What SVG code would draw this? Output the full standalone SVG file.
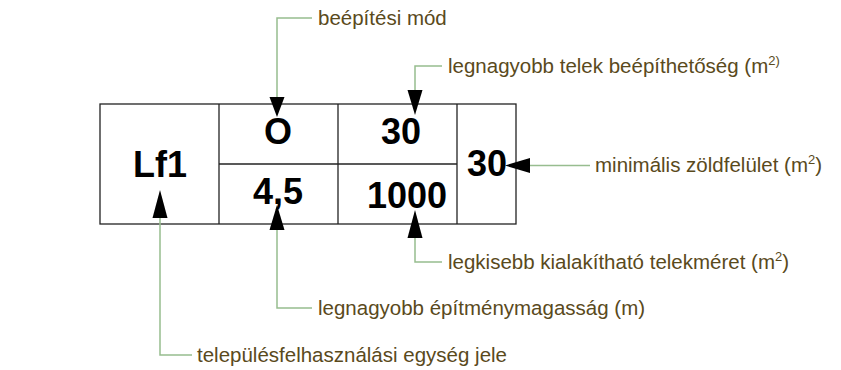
<svg xmlns="http://www.w3.org/2000/svg" width="841" height="370" viewBox="0 0 841 370">
<defs>
<style>
.box{fill:#fff;stroke:#222;stroke-width:1.3}
.val{font-family:"Liberation Sans",Arial,sans-serif;font-weight:bold;font-size:36px;fill:#000;text-anchor:middle}
.lbl{font-family:"Liberation Sans",Arial,sans-serif;font-size:20.5px;fill:#5a4a1c}
.sup{font-size:13px}
.lead{fill:none;stroke:#97bd8f;stroke-width:1.5}
.arr{fill:#000}
</style>
</defs>
<rect width="841" height="370" fill="#fff"/>
<g id="table">
<rect class="box" x="100" y="104" width="416" height="120"/>
<line class="box" x1="219" y1="104" x2="219" y2="224"/>
<line class="box" x1="338" y1="104" x2="338" y2="224"/>
<line class="box" x1="457" y1="104" x2="457" y2="224"/>
<line class="box" x1="219" y1="164" x2="457" y2="164"/>
</g>
<g id="node-lf1"><text class="val" x="160" y="177">Lf1</text></g>
<g id="node-mod"><text class="val" x="278" y="144">O</text></g>
<g id="node-beep"><text class="val" x="401" y="144">30</text></g>
<g id="node-mag"><text class="val" x="278" y="204">4,5</text></g>
<g id="node-telek"><text class="val" x="407" y="208">1000</text></g>
<g id="node-zold"><text class="val" x="487" y="176">30</text></g>
<g id="connectors">
<polyline class="lead" points="312,18 277,18 277,98"/>
<polygon class="arr" points="269.5,97 284.5,97 277,117"/>
<polyline class="lead" points="442,66 415,66 415,91"/>
<polygon class="arr" points="407.5,90 422.5,90 415,115"/>
<polyline class="lead" points="590,165.5 529,165.5"/>
<polygon class="arr" points="530,158 530,173 505,165.5"/>
<polyline class="lead" points="442,262 415,262 415,237"/>
<polygon class="arr" points="407.5,238 422.5,238 415,210"/>
<polyline class="lead" points="312,308 277,308 277,229"/>
<polygon class="arr" points="269.5,230 284.5,230 277,205"/>
<polyline class="lead" points="192,355 160,355 160,217"/>
<polygon class="arr" points="152.5,218 167.5,218 160,190"/>
</g>
<g id="labels">
<text class="lbl" x="318" y="25">beépítési mód</text>
<text class="lbl" x="448" y="73">legnagyobb telek beépíthetőség (m<tspan class="sup" dy="-8">2)</tspan></text>
<text class="lbl" x="595" y="172">minimális zöldfelület (m<tspan class="sup" dy="-8">2</tspan><tspan dy="8">)</tspan></text>
<text class="lbl" x="448" y="269">legkisebb kialakítható telekméret (m<tspan class="sup" dy="-8">2</tspan><tspan dy="8">)</tspan></text>
<text class="lbl" x="318" y="315">legnagyobb építménymagasság (m)</text>
<text class="lbl" x="197" y="362">településfelhasználási egység jele</text>
</g>
</svg>
